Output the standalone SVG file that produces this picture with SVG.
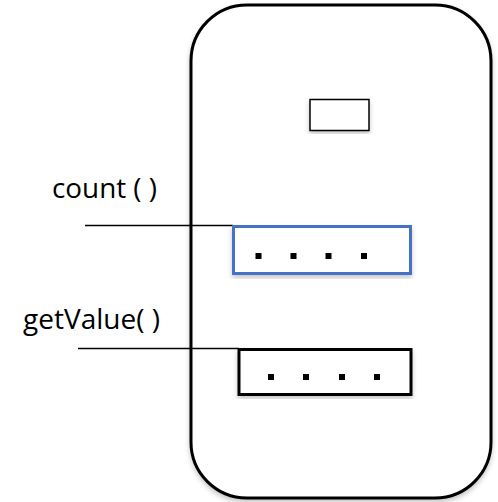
<svg xmlns="http://www.w3.org/2000/svg" width="498" height="502" viewBox="0 0 498 502">
  <defs>
    <filter id="soft" x="-10%" y="-10%" width="120%" height="120%">
      <feDropShadow dx="0" dy="3" stdDeviation="2.5" flood-color="#000" flood-opacity="0.22"/>
    </filter>
    <style>
      .label { font-family: "Open Sans", "Liberation Sans", sans-serif; font-size: 27.5px; fill: #000; }
      .wire { stroke: #000; stroke-width: 1.5; fill: none; }
      .dot { fill: #000; }
    </style>
  </defs>
  <rect width="498" height="502" fill="#fff"/>

  <g id="object">
    <rect x="191" y="5" width="300" height="493" rx="56" ry="56" fill="#fff" stroke="#000" stroke-width="3" filter="url(#soft)"/>
  </g>

  <g id="field">
    <rect x="310" y="99.5" width="59" height="31" fill="#fff" stroke="#000" stroke-width="1.5" filter="url(#soft)"/>
  </g>

  <g id="connectors">
    <line class="wire" x1="85" y1="225.5" x2="233" y2="225.5"/>
    <line class="wire" x1="78" y1="348.5" x2="239" y2="348.5"/>
  </g>

  <g id="count">
    <text class="label" x="52" y="198" textLength="105" lengthAdjust="spacingAndGlyphs">count ( )</text>
    <rect x="233.5" y="226.5" width="177" height="47" fill="#fff" stroke="#4472c4" stroke-width="3" filter="url(#soft)"/>
    <rect class="dot" x="255.5" y="253" width="6" height="6"/>
    <rect class="dot" x="290.5" y="253" width="6" height="6"/>
    <rect class="dot" x="325.5" y="253" width="6" height="6"/>
    <rect class="dot" x="361" y="253" width="6" height="6"/>
  </g>

  <g id="getValue">
    <text class="label" x="23" y="329" textLength="137" lengthAdjust="spacingAndGlyphs">getValue( )</text>
    <rect x="239" y="349.5" width="172" height="45" fill="#fff" stroke="#000" stroke-width="3" filter="url(#soft)"/>
    <rect class="dot" x="268" y="374" width="6" height="6"/>
    <rect class="dot" x="303" y="374" width="6" height="6"/>
    <rect class="dot" x="339" y="374" width="6" height="6"/>
    <rect class="dot" x="374" y="374" width="6" height="6"/>
  </g>
</svg>
